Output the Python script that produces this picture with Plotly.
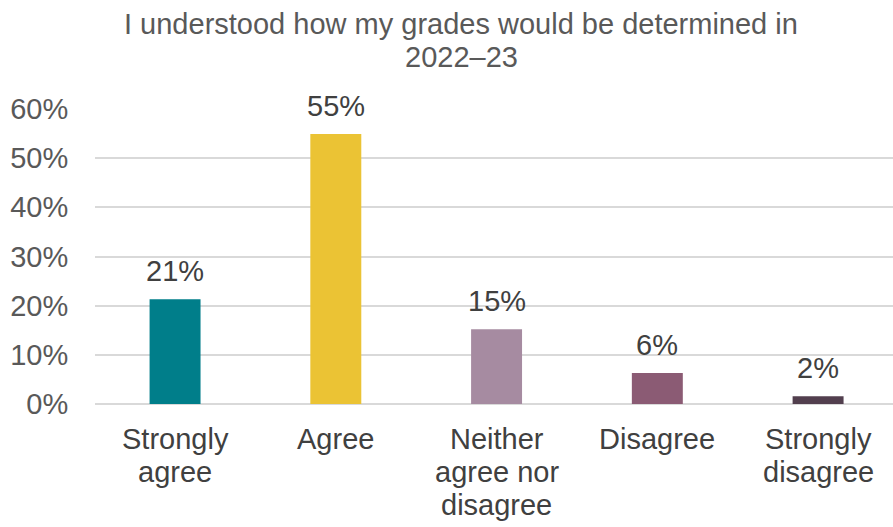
import plotly.graph_objects as go

categories = ["Strongly agree", "Agree", "Neither agree nor disagree", "Disagree", "Strongly disagree"]
category_lines = [["Strongly", "agree"], ["Agree"], ["Neither", "agree nor", "disagree"], ["Disagree"], ["Strongly", "disagree"]]
values = [0.213, 0.549, 0.152, 0.063, 0.016]
labels = ["21%", "55%", "15%", "6%", "2%"]
colors = ["#007E8A", "#EBC334", "#A68BA1", "#8B5B74", "#523F4E"]
title_lines = ["I understood how my grades would be determined in", "2022–23"]

font = "Liberation Sans, Arial, sans-serif"
FS = 29

fig = go.Figure(go.Bar(
    x=categories, y=values,
    marker=dict(color=colors, line=dict(width=0)),
    hoverinfo="skip",
))

annotations = []
# data labels
for c, v, t in zip(categories, values, labels):
    annotations.append(dict(x=c, y=v, xref="x", yref="y", text=t, showarrow=False,
                            yanchor="bottom", yshift=10,
                            font=dict(size=FS, color="#404040", family=font)))
# category labels
for c, lines in zip(categories, category_lines):
    for i, ln in enumerate(lines):
        annotations.append(dict(x=c, y=0, xref="x", yref="paper", text=ln, showarrow=False,
                                yanchor="middle", yshift=-(35 + 33 * i),
                                font=dict(size=FS, color="#404040", family=font)))
# title
for i, ln in enumerate(title_lines):
    annotations.append(dict(x=(461 - 95) / 798, y=1, xref="paper", yref="paper", text=ln,
                            showarrow=False, yanchor="middle", yshift=(109 - 24 - 33 * i),
                            font=dict(size=FS, color="#595959", family=font)))

fig.update_layout(
    width=893, height=527,
    margin=dict(l=95, r=0, t=109, b=123, autoexpand=False),
    paper_bgcolor="white", plot_bgcolor="white",
    bargap=0.683,
    showlegend=False,
    annotations=annotations,
    xaxis=dict(showticklabels=False, showline=False, ticks="", showgrid=False,
               range=[-0.498, 4.466]),
    yaxis=dict(range=[0, 0.6], dtick=0.1, tickformat=".0%",
               tickfont=dict(size=FS, color="#595959", family=font),
               gridcolor="#D9D9D9", gridwidth=1.5, zeroline=True,
               zerolinecolor="#D9D9D9", zerolinewidth=1.5, showline=False,
               ticks="outside", ticklen=20, tickcolor="rgba(0,0,0,0)", automargin=False),
)
fig.write_html("out.html", config={"displayModeBar": False},
               post_script="document.body.style.margin='0';")
